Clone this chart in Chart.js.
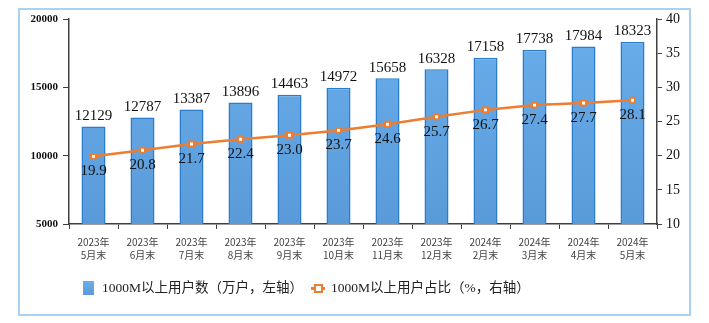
<!DOCTYPE html>
<html><head><meta charset="utf-8">
<script src="https://cdn.jsdelivr.net/npm/chart.js@4/dist/chart.umd.min.js"></script>
<style>
html,body{margin:0;padding:0;background:#fff;}
#wrap{position:relative;width:709px;height:323px;}
#frame{position:absolute;left:18px;top:8px;width:673px;height:308px;border:2px solid #A9D1F3;box-sizing:border-box;pointer-events:none;}
#c{position:absolute;left:0;top:0;}
#legend{position:absolute;left:0;top:279px;width:709px;height:20px;font-family:"Liberation Serif","Noto Sans CJK SC";font-size:13.5px;color:#222;}
.li{position:absolute;top:0;line-height:18px;white-space:nowrap;}
</style></head>
<body>
<div id="wrap">
<canvas id="c" width="709" height="323"></canvas>
<div id="frame"></div>
<div id="legend">
  <div style="position:absolute;left:83px;top:2px;width:11px;height:14px;background:linear-gradient(#6AAEEC,#5A9AD8);"></div>
  <div class="li" style="left:102px;">1000M以上用户数（万户，左轴）</div>
  <div style="position:absolute;left:311px;top:8px;width:14px;height:2.5px;background:#ED7D31;"></div>
  <div style="position:absolute;left:314px;top:5px;width:5px;height:5px;border:2px solid #ED7D31;background:#fff;"></div>
  <div class="li" style="left:331px;">1000M以上用户占比（%，右轴）</div>
</div>
</div>
<script>
const categories = [['2023年','5月末'],['2023年','6月末'],['2023年','7月末'],['2023年','8月末'],['2023年','9月末'],['2023年','10月末'],['2023年','11月末'],['2023年','12月末'],['2024年','2月末'],['2024年','3月末'],['2024年','4月末'],['2024年','5月末']];
const users = [12129,12787,13387,13896,14463,14972,15658,16328,17158,17738,17984,18323];
const share = [19.9,20.8,21.7,22.4,23.0,23.7,24.6,25.7,26.7,27.4,27.7,28.1];
const leftTicks = [5000,10000,15000,20000];
const rightTicks = [10,15,20,25,30,35,40];

const ctx = document.getElementById('c').getContext('2d');
const grad = ctx.createLinearGradient(0,20,0,224);
grad.addColorStop(0,'#6AAEEC');
grad.addColorStop(1,'#5A9AD8');

const labelPlugin = {
  id:'labels',
  afterDatasetsDraw(chart){
    const c = chart.ctx;
    c.save();
    c.font = '15px "Liberation Serif"';
    c.fillStyle = '#111';
    c.textAlign = 'center';
    const m0 = chart.getDatasetMeta(0);
    m0.data.forEach((el,i)=>{
      c.textBaseline='bottom';
      c.fillText(String(users[i]), el.x, el.y-3);
    });
    const m1 = chart.getDatasetMeta(1);
    m1.data.forEach((el,i)=>{
      c.textBaseline='middle';
      c.fillText(share[i].toFixed(1), el.x, el.y+15);
    });
    c.restore();
  }
};

new Chart(ctx,{
  data:{
    labels:categories,
    datasets:[
      {type:'bar',label:'1000M以上用户数（万户，左轴）',data:users,yAxisID:'yL',backgroundColor:grad,borderColor:'#2A7DCB',borderWidth:1.5,categoryPercentage:1,barPercentage:0.49,order:2},
      {type:'line',label:'1000M以上用户占比（%，右轴）',data:share,yAxisID:'yR',borderColor:'#ED7D31',borderWidth:2.5,pointStyle:'rect',pointRadius:3.5,pointBackgroundColor:'#fff',pointBorderColor:'#ED7D31',pointBorderWidth:2,tension:0,order:1}
    ]
  },
  options:{
    responsive:false,animation:false,
    layout:{padding:{left:0,right:0,top:19,bottom:0}},
    plugins:{legend:{display:false},tooltip:{enabled:false}},
    scales:{
      x:{
        offset:true,
        grid:{display:true,drawOnChartArea:false,drawTicks:true,tickLength:5,color:'#404040',lineWidth:1,offset:true},
        border:{display:true,color:'#404040',width:1.5},
        ticks:{color:'#444',font:{family:'"Noto Sans CJK SC"',size:10,lineHeight:1.35},padding:6,maxRotation:0,autoSkip:false},
        afterFit(s){s.height=99;}
      },
      yL:{
        position:'left',min:5000,max:20000,
        afterBuildTicks(s){s.ticks=leftTicks.map(v=>({value:v}));},
        grid:{display:true,drawOnChartArea:false,tickLength:6,color:'#404040',lineWidth:1},
        border:{display:true,color:'#404040',width:1.5},
        ticks:{color:'#111',font:{family:'"Liberation Serif"',size:11,weight:'bold'},padding:5,callback:(v)=>String(v)},
        afterFit(s){s.width=69;}
      },
      yR:{
        position:'right',min:10,max:40,
        afterBuildTicks(s){s.ticks=rightTicks.map(v=>({value:v}));},
        grid:{display:true,drawOnChartArea:false,tickLength:5,color:'#404040',lineWidth:1},
        border:{display:true,color:'#404040',width:1.5},
        ticks:{color:'#111',font:{family:'"Liberation Serif"',size:14},padding:4},
        afterFit(s){s.width=52;}
      }
    }
  },
  plugins:[labelPlugin]
});
</script>
</body></html>
